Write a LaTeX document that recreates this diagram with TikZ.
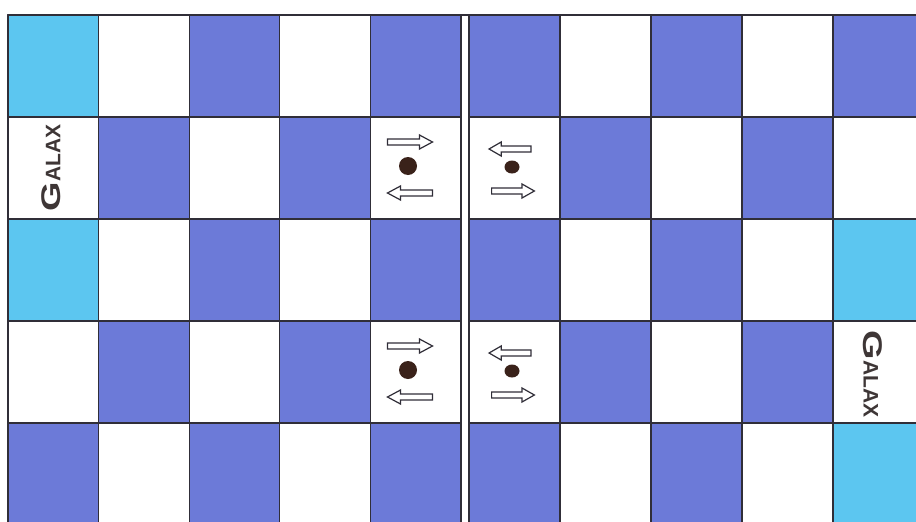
\documentclass[tikz,border=0pt]{standalone}
\usepackage{fontspec}
\setmainfont{Liberation Sans}
\definecolor{boardblue}{RGB}{108,122,216}
\definecolor{boardcyan}{RGB}{92,198,240}
\definecolor{gridline}{RGB}{48,46,56}
\definecolor{dotbrown}{RGB}{58,34,26}
\definecolor{inkgrey}{RGB}{62,54,54}
\tikzset{
  cellbox/.style={draw=gridline,line width=1.3pt},
  hollowarrow/.pic={\draw[gridline,line width=1.2pt,fill=white,line join=miter]
    (-22.5,-3) -- (9.5,-3) -- (9.5,-7) -- (22.5,0) -- (9.5,7) -- (9.5,3) -- (-22.5,3) -- cycle;},
  galax/.style={text=inkgrey,font=\bfseries,inner sep=0pt}
}
\begin{document}
\begin{tikzpicture}[x=1pt,y=-1pt,line join=round]
	\def\xl{8} \def\wl{90.6}
	\def\xr{469} \def\wr{91}
	\def\yt{15} \def\hh{102}
	\useasboundingbox (0,0) rectangle (916,522);
	\clip (0,0) rectangle (916,522);
	% board: two mirrored halves
	\foreach \r in {0,...,4}
		\foreach \c in {0,...,9} {
			\pgfmathsetmacro{\cx}{\c<5 ? \xl+\c*\wl : \xr+(\c-5)*\wr}
			\pgfmathsetmacro{\cw}{\c<5 ? \wl : \wr}
			\pgfmathtruncatemacro{\shade}{\c<5 ? mod(\r+\c+1,2) : mod(\r+\c,2)}
			\ifnum\shade=1 \def\cellfill{boardblue}\else\def\cellfill{white}\fi
			\filldraw[cellbox,fill=\cellfill] (\cx,\yt+\r*\hh) rectangle ++(\cw,\hh);
		}
	\foreach \r/\c in {0/0,2/0,2/9,4/9} {
		\pgfmathsetmacro{\cx}{\c<5 ? \xl+\c*\wl : \xr+(\c-5)*\wr}
		\pgfmathsetmacro{\cw}{\c<5 ? \wl : \wr}
		\filldraw[cellbox,fill=boardcyan] (\cx,\yt+\r*\hh) rectangle ++(\cw,\hh);
	}
	\draw[cellbox] (\xl,\yt) -- (930,\yt);
	% centre cells
	\foreach \cy in {168,372} {
		\pic at (410,\cy-26) {hollowarrow};
		\fill[dotbrown] (408,\cy-2) circle (9);
		\pic[xscale=-1] at (410,\cy+25) {hollowarrow};
		\pic[xscale=-0.93] at (510,\cy-19) {hollowarrow};
		\fill[dotbrown] (512,\cy-1) ellipse (7.5 and 6.5);
		\pic[xscale=0.95] at (513,\cy+23) {hollowarrow};
	}
	\node[galax,rotate=90] (galaxW) at (51,168)
		{\scalebox{1.4}[1]{\fontsize{27}{27}\selectfont G}\fontsize{21}{21}\selectfont ALAX};
	\node[galax,rotate=-90] (galaxE) at (873,374)
		{\scalebox{1.4}[1]{\fontsize{27}{27}\selectfont G}\fontsize{21}{21}\selectfont ALAX};
\end{tikzpicture}
\end{document}
